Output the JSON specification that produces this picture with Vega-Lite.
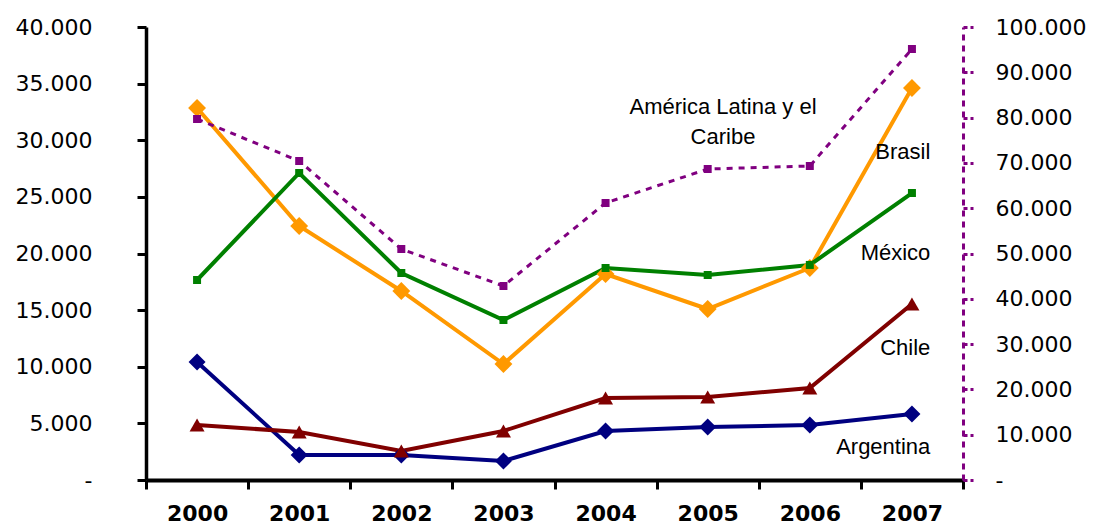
{
  "$schema": "https://vega.github.io/schema/vega-lite/v6.json",
  "width": 817,
  "height": 453,
  "autosize": {"type": "none"},
  "padding": {"left": 146, "top": 27, "right": 130, "bottom": 47},
  "background": "white",
  "config": {"view": {"stroke": null}, "axis": {"grid": false}},
  "datasets": {
    "paises": [
      {"year": "2000", "series": "Argentina", "value": 10420},
      {"year": "2001", "series": "Argentina", "value": 2210},
      {"year": "2002", "series": "Argentina", "value": 2210},
      {"year": "2003", "series": "Argentina", "value": 1680},
      {"year": "2004", "series": "Argentina", "value": 4330},
      {"year": "2005", "series": "Argentina", "value": 4680},
      {"year": "2006", "series": "Argentina", "value": 4860},
      {"year": "2007", "series": "Argentina", "value": 5830},
      {"year": "2000", "series": "Brasil", "value": 32850},
      {"year": "2001", "series": "Brasil", "value": 22430},
      {"year": "2002", "series": "Brasil", "value": 16690},
      {"year": "2003", "series": "Brasil", "value": 10240},
      {"year": "2004", "series": "Brasil", "value": 18190},
      {"year": "2005", "series": "Brasil", "value": 15100},
      {"year": "2006", "series": "Brasil", "value": 18720},
      {"year": "2007", "series": "Brasil", "value": 34610},
      {"year": "2000", "series": "Chile", "value": 4860},
      {"year": "2001", "series": "Chile", "value": 4240},
      {"year": "2002", "series": "Chile", "value": 2560},
      {"year": "2003", "series": "Chile", "value": 4330},
      {"year": "2004", "series": "Chile", "value": 7240},
      {"year": "2005", "series": "Chile", "value": 7330},
      {"year": "2006", "series": "Chile", "value": 8120},
      {"year": "2007", "series": "Chile", "value": 15540},
      {"year": "2000", "series": "México", "value": 17660},
      {"year": "2001", "series": "México", "value": 27110},
      {"year": "2002", "series": "México", "value": 18280},
      {"year": "2003", "series": "México", "value": 14130},
      {"year": "2004", "series": "México", "value": 18720},
      {"year": "2005", "series": "México", "value": 18100},
      {"year": "2006", "series": "México", "value": 18990},
      {"year": "2007", "series": "México", "value": 25340}
    ],
    "region": [
      {"year": "2000", "value": 79690},
      {"year": "2001", "value": 70420},
      {"year": "2002", "value": 50990},
      {"year": "2003", "value": 42830},
      {"year": "2004", "value": 61150},
      {"year": "2005", "value": 68650},
      {"year": "2006", "value": 69320},
      {"year": "2007", "value": 95140}
    ],
    "etiquetas": [
      {"label": "Brasil", "year": "2007", "value": 28960},
      {"label": "México", "year": "2007", "value": 20040},
      {"label": "Chile", "year": "2007", "value": 11660},
      {"label": "Argentina", "year": "2007", "value": 2910}
    ],
    "etiquetaRegion": [
      {"label": "América Latina y el\nCaribe", "year": "2005", "value": 32940}
    ]
  },
  "layer": [
    {
      "layer": [
        {
          "data": {"name": "paises"},
          "mark": {"type": "line", "strokeWidth": 4},
          "encoding": {
            "x": {
              "field": "year", "type": "ordinal", "bandPosition": 0.5,
              "scale": {"type": "band", "paddingInner": 0, "paddingOuter": 0},
              "axis": {
                "orient": "bottom", "title": null, "labelAngle": 0,
                "labelFont": "DejaVu Sans", "labelFontWeight": "bold", "labelFontSize": 22,
                "labelColor": "black", "domainColor": "black", "domainWidth": 4,
                "tickColor": "black", "tickWidth": 3, "tickSize": 9, "tickBand": "extent",
                "labelPadding": 14
              }
            },
            "y": {
              "field": "value", "type": "quantitative",
              "scale": {"domain": [0, 40000], "nice": false},
              "axis": {
                "orient": "left", "title": null,
                "values": [0, 5000, 10000, 15000, 20000, 25000, 30000, 35000, 40000],
                "labelExpr": "datum.value == 0 ? '-\u2007\u2007' : replace(format(datum.value, ','), ',', '.')",
                "labelFont": "DejaVu Sans", "labelFontSize": 22, "labelColor": "black",
                "domainColor": "black", "domainWidth": 3.5,
                "tickColor": "black", "tickWidth": 3, "tickSize": 9, "labelPadding": 45
              }
            },
            "color": {
              "field": "series", "type": "nominal", "legend": null,
              "scale": {"domain": ["Argentina", "Brasil", "Chile", "México"], "range": ["#000080", "#FF9900", "#800000", "#008000"]}
            }
          }
        },
        {
          "data": {"name": "paises"},
          "mark": {"type": "point", "filled": true, "opacity": 1},
          "encoding": {
            "x": {"field": "year", "type": "ordinal", "bandPosition": 0.5},
            "y": {"field": "value", "type": "quantitative"},
            "color": {"field": "series", "type": "nominal", "legend": null},
            "shape": {
              "field": "series", "type": "nominal", "legend": null,
              "scale": {"domain": ["Argentina", "Brasil", "Chile", "México"], "range": ["diamond", "diamond", "triangle-up", "square"]}
            },
            "size": {
              "field": "series", "type": "nominal", "legend": null,
              "scale": {"type": "ordinal", "domain": ["Argentina", "Brasil", "Chile", "México"], "range": [290, 320, 225, 64]}
            }
          }
        },
        {
          "data": {"name": "etiquetas"},
          "mark": {"type": "text", "align": "right", "baseline": "middle", "font": "Liberation Sans", "fontSize": 22, "color": "black"},
          "encoding": {
            "x": {"field": "year", "type": "ordinal", "bandPosition": 0.68},
            "y": {"field": "value", "type": "quantitative"},
            "text": {"field": "label"}
          }
        },
        {
          "data": {"name": "etiquetaRegion"},
          "mark": {"type": "text", "align": "center", "baseline": "middle", "font": "Liberation Sans", "fontSize": 22, "color": "black", "lineBreak": "\n", "lineHeight": 30},
          "encoding": {
            "x": {"field": "year", "type": "ordinal", "bandPosition": 0.65},
            "y": {"field": "value", "type": "quantitative"},
            "text": {"field": "label"}
          }
        }
      ]
    },
    {
      "data": {"name": "region"},
      "layer": [
        {
          "mark": {"type": "line", "strokeWidth": 3, "strokeDash": [6, 6], "color": "#800080"},
          "encoding": {
            "x": {"field": "year", "type": "ordinal", "bandPosition": 0.5},
            "y": {
              "field": "value", "type": "quantitative",
              "scale": {"domain": [0, 100000], "nice": false},
              "axis": {
                "orient": "right", "title": null,
                "values": [0, 10000, 20000, 30000, 40000, 50000, 60000, 70000, 80000, 90000, 100000],
                "labelExpr": "datum.value == 0 ? '-' : replace(format(datum.value, ','), ',', '.')",
                "labelFont": "DejaVu Sans", "labelFontSize": 22, "labelColor": "black",
                "domainColor": "#800080", "domainWidth": 3, "domainDash": [6, 5],
                "tickColor": "#800080", "tickWidth": 3, "tickSize": 10, "tickDash": [4, 3],
                "labelPadding": 22
              }
            }
          }
        },
        {
          "mark": {"type": "point", "shape": "square", "filled": true, "opacity": 1, "size": 64, "color": "#800080"},
          "encoding": {
            "x": {"field": "year", "type": "ordinal", "bandPosition": 0.5},
            "y": {"field": "value", "type": "quantitative"}
          }
        }
      ]
    }
  ],
  "resolve": {"scale": {"y": "independent"}}
}
